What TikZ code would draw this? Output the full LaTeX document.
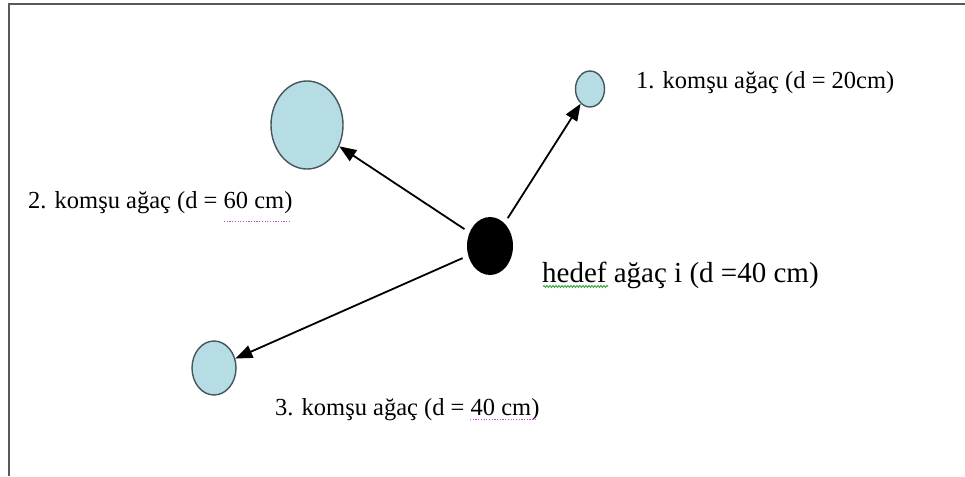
\documentclass[tikz,border=0pt]{standalone}
\usepackage{fontspec}
\setmainfont{Liberation Serif}
\usetikzlibrary{arrows.meta,shapes.geometric,decorations.pathmorphing}
\definecolor{treefill}{HTML}{B7DDE4}
\definecolor{treeedge}{HTML}{44565B}
\definecolor{spellgreen}{HTML}{3DA63D}
\definecolor{spellpink}{HTML}{D040E0}
\begin{document}
\begin{tikzpicture}[x=1pt,y=-1pt,
  tree/.style={ellipse,draw=treeedge,fill=treefill,line width=1.4pt,inner sep=0pt},
  target/.style={ellipse,fill=black,inner sep=0pt},
  link/.style={line width=1.8pt,-{Triangle[length=17pt,width=13pt]},shorten <=6pt},
  treelabel/.style={anchor=base west,inner sep=0pt,font=\fontsize{24.5}{28}\selectfont},
  biglabel/.style={anchor=base west,inner sep=0pt,font=\fontsize{29}{33}\selectfont},
  squiggle/.style={draw=spellgreen,line width=0.9pt,decorate,decoration={snake,amplitude=1pt,segment length=3pt}},
  dotline/.style={draw=spellpink,line width=1.2pt,dash pattern=on 1.2pt off 1.5pt}
]
\useasboundingbox (0,0) rectangle (965,476);
% page frame
\draw[line width=2pt,draw=black!65] (8.5,476) -- (8.5,3.8) -- (965,3.8);

% trees
\node[target,minimum width=46pt,minimum height=58pt] (t0) at (490,246) {};
\node[tree,minimum width=29pt,minimum height=36pt] (t1) at (590,89) {};
\node[tree,minimum width=72pt,minimum height=88pt] (t2) at (307,125) {};
\node[tree,minimum width=44pt,minimum height=54pt] (t3) at (214,368) {};

% neighbour links
\draw[link] (t0) -- (t1);
\draw[link] (t0) -- (t2);
\draw[link] (t0) -- (t3);

% labels
\node[treelabel] (l1) at (636,89) {1. komşu ağaç (d = 20cm)};
\node[treelabel] (l2) at (28,208) {2. komşu ağaç (d = 60 cm)};
\node[treelabel] (l3) at (275,415) {3. komşu ağaç (d = 40 cm)};
\node[biglabel] (l0) at (542,282) {hedef ağaç i (d =40 cm)};

% proofing marks
\draw[squiggle] (543,286.5) -- (608,286.5);
\draw[dotline] (224,221.5) -- (289,221.5);
\draw[dotline] (470,419.5) -- (535,419.5);
\end{tikzpicture}
\end{document}
